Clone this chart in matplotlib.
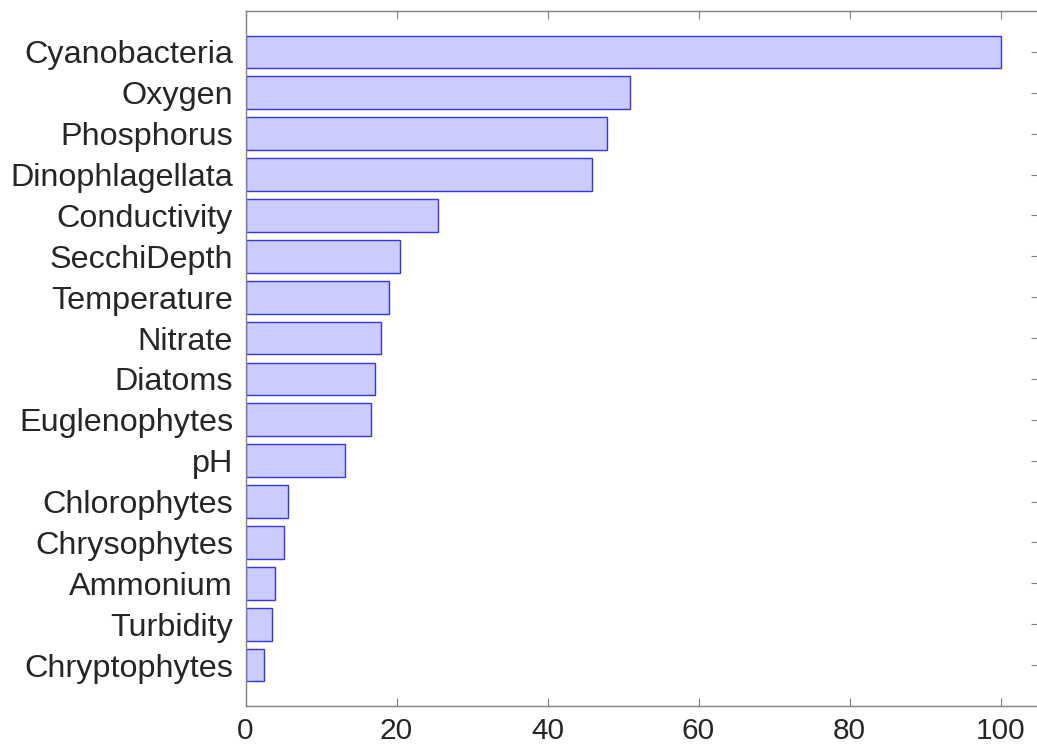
import matplotlib.pyplot as plt
import numpy as np

plt.rcParams['font.family'] = ['Liberation Sans', 'DejaVu Sans']

# Importance des variables (lecture du graphique)
variables = ["Cyanobacteria", "Oxygen", "Phosphorus", "Dinophlagellata",
             "Conductivity", "SecchiDepth", "Temperature", "Nitrate",
             "Diatoms", "Euglenophytes", "pH", "Chlorophytes",
             "Chrysophytes", "Ammonium", "Turbidity", "Chryptophytes"]
importance = [100, 50.9, 47.9, 45.9, 25.5, 20.5, 19.0, 17.9,
              17.2, 16.6, 13.2, 5.6, 5.1, 3.9, 3.5, 2.5]

fig = plt.figure(figsize=(10.37, 7.51), dpi=100)
# l'axe droit tombe juste hors de l'image, comme dans l'original
ax = fig.add_axes([245.5 / 1037, 45 / 751, 793 / 1037, 695 / 751])

pos = np.arange(len(variables), 0, -1)
ax.barh(pos, importance, height=0.8, color='#ccccff',
        edgecolor='#3333ff', linewidth=1.0)

ax.set_xlim(0, 793 / 7.55)
ax.set_ylim(0, len(variables) + 1)
ax.set_yticks(pos)
ax.set_yticklabels(variables)
ax.set_xticks([0, 20, 40, 60, 80, 100])

ax.tick_params(axis='both', direction='in', length=6, width=0.8,
               color='#808080', labelcolor='#262626')
ax.tick_params(axis='x', top=True, pad=8, labelsize=21.5)
ax.tick_params(axis='y', left=False, right=True, pad=9, labelsize=23.3)
for s in ax.spines.values():
    s.set_color('#808080')
    s.set_linewidth(1.0)
ax.spines['right'].set_visible(False)

plt.savefig('out.png', dpi=100)
